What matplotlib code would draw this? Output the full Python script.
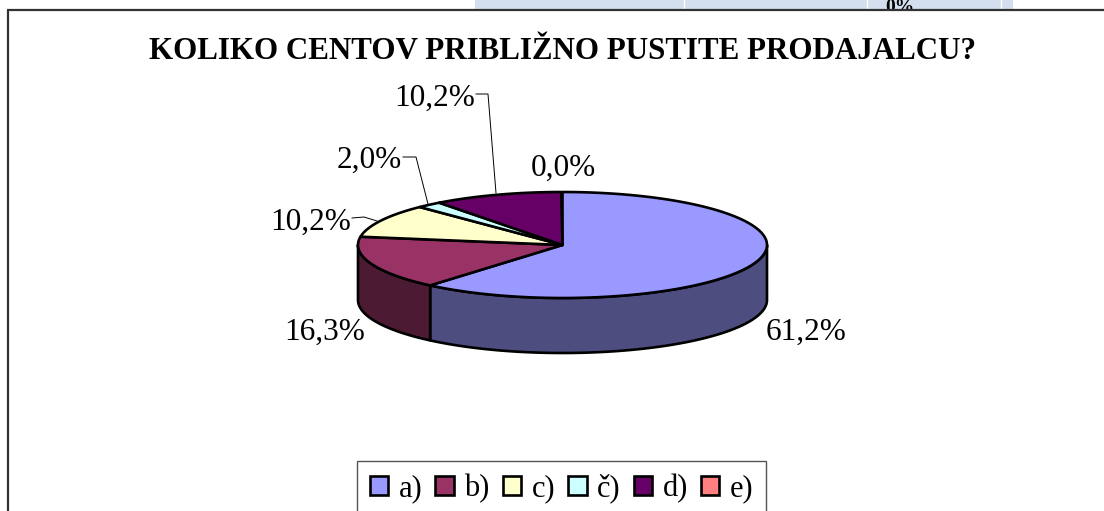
import numpy as np
import matplotlib
matplotlib.use("Agg")
import matplotlib.pyplot as plt
from matplotlib.patches import Patch, Rectangle

plt.rcParams['font.family'] = ['Liberation Serif', 'DejaVu Serif']

title = "KOLIKO CENTOV PRIBLIŽNO PUSTITE PRODAJALCU?"
categories = ["a)", "b)", "c)", "č)", "d)", "e)"]
values = [61.2, 16.3, 10.2, 2.0, 10.2, 0.0]
colors = ["#9999FF", "#993366", "#FFFFCC", "#CCFFFF", "#660066", "#FF8080"]
side_colors = ["#4D4D80", "#4D1A33", "#80805F", "#5F8080", "#330033", "#804040"]

label_xy = [(806, 340), (324.5, 340), (311, 230), (369.5, 168), (435, 106), (563.5, 176)]
leaders = [None, None,
           [(352, 218), (364, 217), (377, 221)],
           [(403, 157), (416, 157), (428, 204)],
           [(476, 94), (488, 94), (496, 193)],
           None]

cx, cy, rx, ry, depth = 562.5, 245, 204.5, 53, 55

fig = plt.figure(figsize=(11.04, 5.11), dpi=100)
ax = fig.add_axes([0, 0, 1, 1])
ax.set_xlim(0, 1104)
ax.set_ylim(511, 0)
ax.axis('off')

# table remnant above the chart
ax.add_patch(Rectangle((475, 0), 538, 10, fc="#D3DFEE", ec='none', zorder=1))
for sx in (684, 867, 1001):
    ax.plot([sx, sx], [0, 10], color='white', lw=1, zorder=1.5)
ax.text(885, 12, "0%", fontsize=14, fontweight='bold', ha='left', va='baseline', zorder=1.2)
# chart area covers the text overflow
ax.add_patch(Rectangle((7, 10), 1097, 510, fc='white', ec='none', zorder=2))
ax.plot([7, 1104], [10.5, 10.5], color='#333333', lw=1.6, zorder=3, solid_capstyle='butt')
ax.plot([7.5, 7.5], [10, 511], color='#333333', lw=1.6, zorder=3, solid_capstyle='butt')

ax.text(562.5, 59, title, fontsize=22.3, fontweight='bold', ha='center', va='baseline', zorder=5)


def px(t):
    return cx + rx * np.sin(t)


def py(t):
    return cy - ry * np.cos(t)


edges = np.radians(np.concatenate(([0], np.cumsum(values))) * 3.6)

# side walls (front half only)
for i in range(len(values)):
    a, b = max(edges[i], np.pi / 2), min(edges[i + 1], 3 * np.pi / 2)
    if b <= a:
        continue
    t = np.linspace(a, b, 120)
    xs = np.concatenate((px(t), px(t[::-1])))
    ys = np.concatenate((py(t), py(t[::-1]) + depth))
    ax.fill(xs, ys, fc=side_colors[i], ec='black', lw=1.9, joinstyle='round', zorder=3)

# top wedges
for i in range(len(values)):
    if values[i] <= 0:
        continue
    t = np.linspace(edges[i], edges[i + 1], 200)
    xs = np.concatenate(([cx], px(t)))
    ys = np.concatenate(([cy], py(t)))
    ax.fill(xs, ys, fc=colors[i], ec='black', lw=1.9, joinstyle='round', zorder=4)

for v, (lx, ly), ld in zip(values, label_xy, leaders):
    ax.text(lx, ly, f"{v:.1f}%".replace('.', ','), fontsize=22.5, ha='center', va='baseline', zorder=5)
    if ld:
        ax.plot(*zip(*ld), color='black', lw=0.7, zorder=4.5)

handles = [Patch(fc=c, ec='black', lw=1.9) for c in colors]
leg = ax.legend(handles, categories, ncol=6, loc='upper left',
                bbox_to_anchor=(357 / 1104, 1 - 460.5 / 511), bbox_transform=ax.transAxes,
                fontsize=22, frameon=True, fancybox=False, edgecolor='#555555', framealpha=1,
                handlelength=0.6, handleheight=0.6, handletextpad=0.35,
                columnspacing=0.42, borderpad=0.42, borderaxespad=0)
leg.set_zorder(6)
leg.get_frame().set_linewidth(1)

fig.savefig("out.png", dpi=100)
